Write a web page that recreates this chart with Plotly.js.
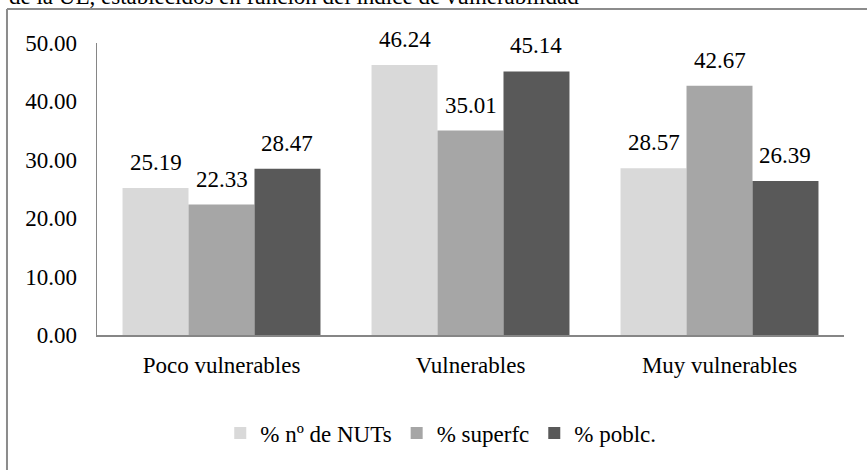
<!DOCTYPE html>
<html>
<head>
<meta charset="utf-8">
<script src="https://cdn.plot.ly/plotly-3.0.1.min.js"></script>
<style>
html,body{margin:0;padding:0;background:#fff;}
#chart{width:867px;height:470px;}
</style>
</head>
<body>
<div id="chart"></div>
<script>
const categories = ["Poco vulnerables", "Vulnerables", "Muy vulnerables"];
const seriesNames = ["% nº de NUTs", "% superfc", "% poblc."];
const nuts = [25.19, 46.24, 28.57];
const superfc = [22.33, 35.01, 42.67];
const poblc = [28.47, 45.14, 26.39];
const titleText = "de la UE, establecidos en función del índice de vulnerabilidad";

const colors = ["#d9d9d9", "#a6a6a6", "#595959"];
const values = [nuts, superfc, poblc];
const FONT = "Liberation Serif";

const traces = values.map((v, i) => ({
  type: "bar",
  name: seriesNames[i],
  x: categories,
  y: v,
  marker: {color: colors[i], line: {width: 0}},
  hoverinfo: "none"
}));

const groupWidth = 0.795;
const barW = groupWidth / 3;
const annotations = [];
values.forEach((v, i) => {
  v.forEach((val, j) => {
    annotations.push({
      xref: "x", yref: "y",
      x: j + (i - 1) * barW,
      y: val,
      text: val.toFixed(2),
      showarrow: false,
      yanchor: "bottom",
      yshift: 11,
      font: {family: FONT, size: 23, color: "#000"}
    });
  });
});
annotations.push({
  xref: "paper", yref: "paper",
  x: -0.12, y: 1.108,
  xanchor: "left", yanchor: "bottom",
  text: titleText,
  showarrow: false,
  font: {family: FONT, size: 23, color: "#000"}
});

const layout = {
  width: 867, height: 470,
  margin: {l: 97, r: 23, t: 43, b: 135},
  paper_bgcolor: "#fff", plot_bgcolor: "#fff",
  font: {family: FONT, size: 23, color: "#000"},
  barmode: "group",
  bargap: 0.205,
  bargroupgap: 0,
  showlegend: true,
  legend: {
    orientation: "h",
    x: 0.165, y: -0.336, xanchor: "left", yanchor: "middle",
    font: {family: FONT, size: 23, color: "#000"},
    itemwidth: 30,
    bgcolor: "rgba(0,0,0,0)"
  },
  xaxis: {
    type: "category",
    showline: true, linecolor: "#868686", linewidth: 2,
    ticks: "", showgrid: false, zeroline: false,
    ticklabelstandoff: 8,
    tickfont: {family: FONT, size: 23, color: "#000"}
  },
  yaxis: {
    range: [0, 50],
    tickvals: [0, 10, 20, 30, 40, 50],
    tickformat: ".2f",
    showline: true, linecolor: "#868686", linewidth: 1.5,
    ticks: "", showgrid: false, zeroline: false,
    ticklabelstandoff: 14,
    tickfont: {family: FONT, size: 23, color: "#000"}
  },
  annotations: annotations,
  shapes: [
    {type: "line", xref: "paper", yref: "paper", x0: -0.1205, x1: -0.1205, y0: -0.6, y1: 1.1164, line: {color: "#8c8c8c", width: 2}},
    {type: "line", xref: "paper", yref: "paper", x0: -0.1205, x1: 1.2, y0: 1.1164, y1: 1.1164, line: {color: "#8c8c8c", width: 2}}
  ]
};

Plotly.newPlot("chart", traces, layout, {displayModeBar: false, staticPlot: true});
</script>
</body>
</html>
